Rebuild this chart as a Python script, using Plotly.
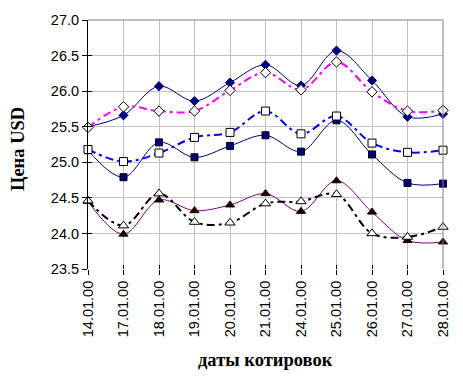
import plotly.graph_objects as go

dates = ["14.01.00", "17.01.00", "18.01.00", "19.01.00", "20.01.00", "21.01.00",
         "24.01.00", "25.01.00", "26.01.00", "27.01.00", "28.01.00"]
y_ticks = [23.5, 24.0, 24.5, 25.0, 25.5, 26.0, 26.5, 27.0]

s1 = [25.50, 25.66, 26.07, 25.86, 26.12, 26.37, 26.08, 26.57, 26.15, 25.64, 25.68]
s2 = [25.49, 25.78, 25.72, 25.72, 26.01, 26.26, 26.02, 26.41, 25.99, 25.72, 25.73]
s3 = [25.18, 25.01, 25.13, 25.35, 25.42, 25.72, 25.40, 25.65, 25.27, 25.14, 25.17]
s4 = [25.17, 24.79, 25.28, 25.07, 25.23, 25.38, 25.15, 25.59, 25.11, 24.71, 24.70]
s5 = [24.45, 23.99, 24.47, 24.32, 24.40, 24.56, 24.31, 24.74, 24.30, 23.90, 23.88]
s6 = [24.46, 24.11, 24.56, 24.16, 24.15, 24.42, 24.45, 24.55, 24.00, 23.95, 24.09]

xi = list(range(len(dates)))

fig = go.Figure()

def add(vals, color, width, dash, symbol, size, fill, mline):
    fig.add_trace(go.Scatter(
        x=xi, y=vals, mode="lines+markers",
        line=dict(color=color, width=width, dash=dash, shape="spline", smoothing=1.0),
        marker=dict(symbol=symbol, size=size, color=fill, line=dict(color=mline, width=1)),
        showlegend=False, cliponaxis=False))

add(s1, "#000080", 1, "solid", "diamond", 7, "#000080", "#000080")
add(s2, "#FF00FF", 2, "8px,4px,3px,4px", "diamond", 8, "#FFFFFF", "#000000")
add(s4, "#000080", 1, "solid", "square", 7, "#000080", "#000000")
add(s3, "#0000FF", 2, "8px,4px,3px,4px", "square", 8, "#FFFFFF", "#000000")
add(s5, "#800080", 1, "solid", "triangle-up", 8, "#1a0000", "#1a0000")
add(s6, "#000000", 2, "8px,4px,3px,4px", "triangle-up", 9, "#FFFFFF", "#000000")

# invisible trace for overlay axes (crossing tick marks)
fig.add_trace(go.Scatter(x=[0], y=[23.5], xaxis="x2", yaxis="y2", mode="markers",
                         marker=dict(opacity=0), showlegend=False, hoverinfo="skip"))

tickfont = dict(family="Liberation Sans, Arial", size=14.5, color="#000000")
titlefont = dict(family="Liberation Serif, Times New Roman", size=18.5, color="#000000")

fig.update_layout(
    width=463, height=386,
    margin=dict(l=88, r=13, t=14, b=117),
    paper_bgcolor="white", plot_bgcolor="white",
    xaxis=dict(range=[0, 10], tickvals=xi, ticktext=dates, tickangle=-90,
               showgrid=True, gridcolor="#c0c0c0", gridwidth=1,
               showline=False, zeroline=False,
               ticks="outside", ticklen=5, tickcolor="#000000", tickwidth=1,
               tickfont=tickfont),
    yaxis=dict(range=[23.5, 27.0], tickvals=y_ticks, tickformat=".1f",
               showgrid=True, gridcolor="#c0c0c0", gridwidth=1,
               showline=True, linecolor="#000000", linewidth=1, zeroline=False,
               ticks="outside", ticklen=5, tickcolor="#000000", tickwidth=1,
               tickfont=tickfont),
    xaxis2=dict(range=[0, 10], tickvals=xi, overlaying="x", anchor="y2",
                showgrid=False, showline=False, zeroline=False, showticklabels=False,
                ticks="inside", ticklen=4, tickcolor="#000000", tickwidth=1),
    yaxis2=dict(range=[23.5, 27.0], tickvals=y_ticks, overlaying="y", anchor="x2",
                side="left", showgrid=False, showline=False, zeroline=False,
                showticklabels=False,
                ticks="inside", ticklen=4, tickcolor="#000000", tickwidth=1),
    annotations=[
        dict(text="<b>даты котировок</b>", xref="paper", yref="paper", x=0.5, y=0,
             xanchor="center", yanchor="middle", yshift=-91, showarrow=False,
             font=titlefont),
        dict(text="<b>Цена USD</b>", xref="paper", yref="paper", x=0, y=0.482,
             xanchor="center", yanchor="middle", xshift=-70, textangle=-90,
             showarrow=False, font=titlefont),
    ],
    shapes=[
        dict(type="line", xref="paper", yref="paper", x0=0, x1=1, y0=1, y1=1,
             line=dict(color="#808080", width=1)),
        dict(type="line", xref="paper", yref="paper", x0=1, x1=1, y0=0, y1=1,
             line=dict(color="#808080", width=1)),
    ],
)

fig.write_html("out.html", config={"displayModeBar": False},
               post_script="document.body.style.margin='0px'; document.body.style.overflow='hidden';")
